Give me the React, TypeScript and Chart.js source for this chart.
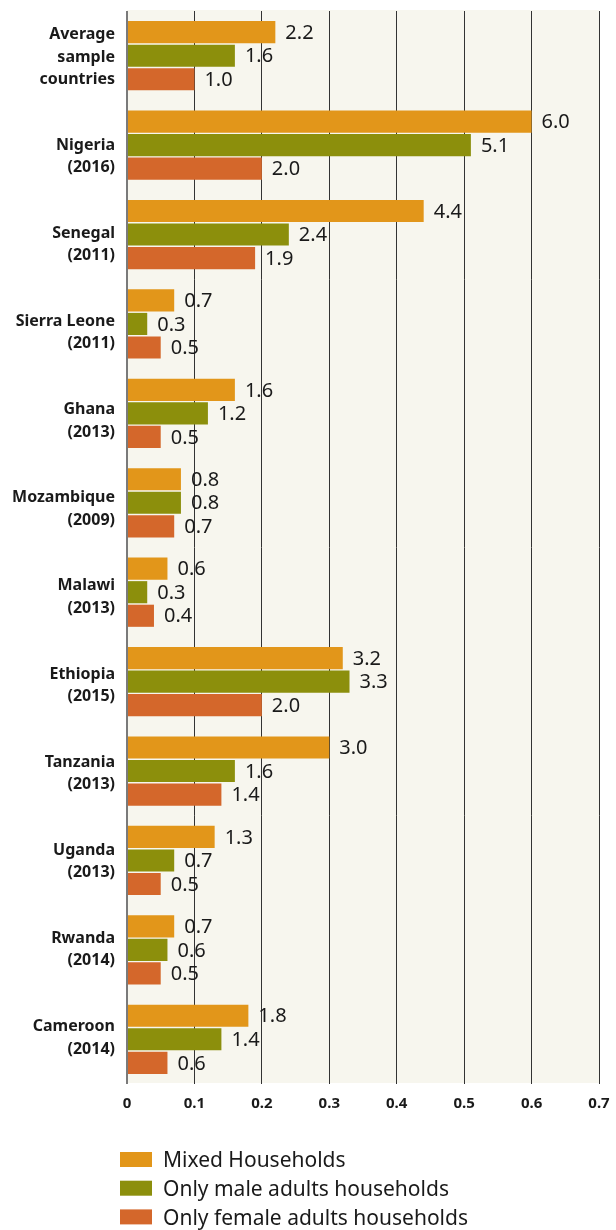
import React, { useEffect, useRef } from "react";
import { Chart, registerables } from "chart.js";

Chart.register(...registerables);

const categories: string[][] = [
  ["Average", "sample", "countries"],
  ["Nigeria", "(2016)"],
  ["Senegal", "(2011)"],
  ["Sierra Leone", "(2011)"],
  ["Ghana", "(2013)"],
  ["Mozambique", "(2009)"],
  ["Malawi", "(2013)"],
  ["Ethiopia", "(2015)"],
  ["Tanzania", "(2013)"],
  ["Uganda", "(2013)"],
  ["Rwanda", "(2014)"],
  ["Cameroon", "(2014)"],
];

const mixedHouseholds = [2.2, 6.0, 4.4, 0.7, 1.6, 0.8, 0.6, 3.2, 3.0, 1.3, 0.7, 1.8];
const maleOnlyHouseholds = [1.6, 5.1, 2.4, 0.3, 1.2, 0.8, 0.3, 3.3, 1.6, 0.7, 0.6, 1.4];
const femaleOnlyHouseholds = [1.0, 2.0, 1.9, 0.5, 0.5, 0.7, 0.4, 2.0, 1.4, 0.5, 0.5, 0.6];

const xTickLabels = ["0", "0.1", "0.2", "0.3", "0.4", "0.5", "0.6", "0.7"];

const seriesNames = [
  "Mixed Households",
  "Only male adults households",
  "Only female adults households",
];
const seriesColors = ["#e2961a", "#8c8f0c", "#d4672b"];

const FONT = "'Noto Sans', sans-serif";

// labels padded to three lines so that the country name sits on the tick
const paddedLabels = categories.map((c) => (c.length >= 3 ? c : ["", ...c]));

const LABEL_MIN = -0.016;
const LABEL_MAX = 11.144;

const bgPlugin = {
  id: "plotBg",
  beforeDraw(chart: any) {
    const { ctx, chartArea } = chart;
    ctx.save();
    ctx.fillStyle = "#f7f6ee";
    ctx.fillRect(chartArea.left, chartArea.top - 1, chartArea.right - chartArea.left, chartArea.bottom - chartArea.top);
    ctx.restore();
  },
};

const valueLabelPlugin = {
  id: "valueLabels",
  afterDatasetsDraw(chart: any) {
    const { ctx } = chart;
    ctx.save();
    ctx.font = `20px ${FONT}`;
    ctx.fillStyle = "#1a1a1a";
    ctx.textAlign = "left";
    ctx.textBaseline = "middle";
    chart.data.datasets.forEach((ds: any, di: number) => {
      const meta = chart.getDatasetMeta(di);
      meta.data.forEach((el: any, i: number) => {
        const v = ds.data[i] as number;
        ctx.fillText(v.toFixed(1), el.x + 10, el.y + 1);
      });
    });
    ctx.restore();
  },
};

const legendPlugin = {
  id: "customLegend",
  afterDraw(chart: any) {
    const { ctx } = chart;
    ctx.save();
    ctx.font = `21px ${FONT}`;
    ctx.textBaseline = "middle";
    ctx.textAlign = "left";
    const startY = 1159.5;
    const step = 28.7;
    seriesNames.forEach((name, i) => {
      const cy = startY + i * step;
      ctx.fillStyle = seriesColors[i];
      ctx.fillRect(120, cy - 7.5, 32, 15);
      ctx.fillStyle = "#1a1a1a";
      ctx.fillText(name, 163, cy + 2);
    });
    ctx.restore();
  },
};

export default function App() {
  const canvasRef = useRef<HTMLCanvasElement | null>(null);

  useEffect(() => {
    if (!canvasRef.current) return;
    const chart = new Chart(canvasRef.current, {
      type: "bar",
      data: {
        labels: categories.map((c) => c.join(" ")),
        datasets: [
          { label: seriesNames[0], data: mixedHouseholds, backgroundColor: seriesColors[0], yAxisID: "y" },
          { label: seriesNames[1], data: maleOnlyHouseholds, backgroundColor: seriesColors[1], yAxisID: "y" },
          { label: seriesNames[2], data: femaleOnlyHouseholds, backgroundColor: seriesColors[2], yAxisID: "y" },
        ],
      },
      options: {
        indexAxis: "y",
        animation: false,
        responsive: false,
        maintainAspectRatio: false,
        categoryPercentage: 0.79,
        barPercentage: 0.94,
        layout: { padding: { top: 11, right: 17, left: 0, bottom: 106 } },
        plugins: {
          legend: { display: false },
          tooltip: { enabled: false },
        },
        scales: {
          x: {
            min: 0,
            max: 7,
            border: { display: false },
            grid: {
              drawTicks: false,
              color: (c: any) => (c.index === 0 ? "#7a7a7a" : "#333333"),
              lineWidth: (c: any) => (c.index === 0 ? 2 : 1),
            },
            ticks: {
              stepSize: 1,
              padding: 11,
              color: "#1a1a1a",
              font: { family: FONT, size: 15, weight: "bold" },
              callback: (_v: any, i: number) => xTickLabels[i],
            },
            afterFit: (scale: any) => {
              scale.height = 40;
              scale.paddingLeft = 0;
              scale.paddingRight = 0;
            },
          },
          y: {
            display: false,
          },
          yLabels: {
            type: "linear",
            axis: "y",
            position: "left",
            reverse: true,
            bounds: "data",
            min: LABEL_MIN,
            max: LABEL_MAX,
            border: { display: false },
            grid: { display: false, drawTicks: false },
            afterBuildTicks: (scale: any) => {
              scale.ticks = paddedLabels.map((_l, i) => ({ value: i }));
              scale.min = LABEL_MIN;
              scale.max = LABEL_MAX;
            },
            ticks: {
              autoSkip: false,
              padding: 12,
              color: "#1a1a1a",
              font: { family: FONT, size: 16, weight: "bold", lineHeight: 1.4 },
              callback: (v: any) => paddedLabels[Math.round(v)],
            },
            afterFit: (scale: any) => {
              scale.width = 127;
              scale.paddingTop = 0;
              scale.paddingBottom = 0;
            },
          },
        },
      } as any,
      plugins: [bgPlugin, valueLabelPlugin, legendPlugin],
    });
    return () => chart.destroy();
  }, []);

  return (
    <div style={{ position: "absolute", left: 0, top: 0, width: 616, height: 1230 }}>
      <canvas ref={canvasRef} width={616} height={1230} style={{ width: 616, height: 1230, display: "block" }} />
    </div>
  );
}
